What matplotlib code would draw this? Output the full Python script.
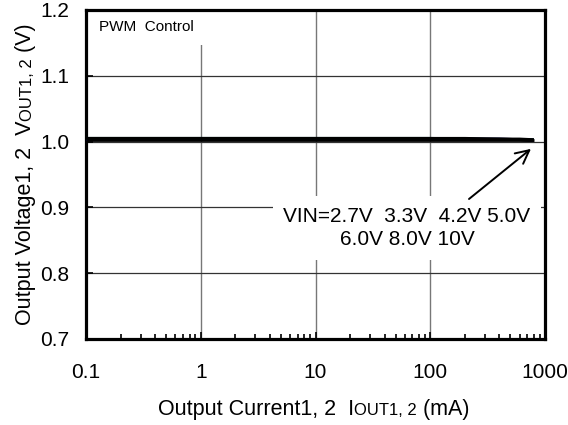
import numpy as np
import matplotlib
matplotlib.use("Agg")
import matplotlib.pyplot as plt
from matplotlib.ticker import LogLocator, FixedLocator, NullFormatter

plt.rcParams['font.family'] = ['Liberation Sans', 'DejaVu Sans']

# ---- data ----
vin_labels = ["2.7V", "3.3V", "4.2V", "5.0V", "6.0V", "8.0V", "10V"]
current_ma = [0.1, 0.2, 0.5, 1, 2, 5, 10, 20, 50, 100, 200, 400, 600, 800]
vout_27 = [1.004, 1.004, 1.004, 1.004, 1.004, 1.004, 1.004, 1.004, 1.004, 1.004, 1.004, 1.003, 1.003, 1.002]
vout_33 = [1.004, 1.004, 1.004, 1.004, 1.004, 1.004, 1.004, 1.004, 1.004, 1.004, 1.004, 1.004, 1.003, 1.002]
vout_42 = [1.003, 1.003, 1.003, 1.003, 1.003, 1.003, 1.003, 1.003, 1.003, 1.003, 1.003, 1.003, 1.003, 1.002]
vout_50 = [1.003, 1.003, 1.003, 1.003, 1.003, 1.003, 1.003, 1.003, 1.003, 1.003, 1.003, 1.003, 1.003, 1.002]
vout_60 = [1.005, 1.005, 1.005, 1.005, 1.005, 1.005, 1.005, 1.005, 1.005, 1.005, 1.004, 1.004, 1.003, 1.003]
vout_80 = [1.005, 1.005, 1.005, 1.005, 1.005, 1.005, 1.005, 1.005, 1.005, 1.005, 1.005, 1.004, 1.004, 1.003]
vout_10 = [1.002, 1.002, 1.002, 1.002, 1.002, 1.002, 1.002, 1.002, 1.002, 1.002, 1.002, 1.002, 1.002, 1.002]
series = [vout_27, vout_33, vout_42, vout_50, vout_60, vout_80, vout_10]
colors = ["#007070", "#600060", "#000000", "#000040", "#004040", "#000000", "#000000"]

x_ticks = [0.1, 1, 10, 100, 1000]
x_ticklabels = ["0.1", "1", "10", "100", "1000"]
y_ticks = [0.7, 0.8, 0.9, 1.0, 1.1, 1.2]
y_ticklabels = ["0.7", "0.8", "0.9", "1.0", "1.1", "1.2"]

W, H = 568, 425
fig = plt.figure(figsize=(W / 100, H / 100), dpi=100)
ax = fig.add_axes([86 / W, 1 - 339 / H, (545 - 86) / W, (339 - 10) / H])

for ys, c in zip(series, colors):
    ax.plot(current_ma, ys, color=c, lw=2.0, solid_capstyle='butt', zorder=4)

ax.set_xscale('log')
ax.set_xlim(0.1, 1000)
ax.set_ylim(0.7, 1.2)
ax.xaxis.set_major_locator(FixedLocator(x_ticks))
ax.set_xticklabels(x_ticklabels)
ax.xaxis.set_minor_locator(LogLocator(base=10, subs=np.arange(2, 10), numticks=20))
ax.xaxis.set_minor_formatter(NullFormatter())
ax.set_yticks(y_ticks)
ax.set_yticklabels(y_ticklabels)

ax.tick_params(axis='both', which='major', direction='in', length=5, width=1.2,
               labelsize=15, colors='black')
ax.tick_params(axis='x', which='major', pad=17)
ax.tick_params(axis='x', which='minor', direction='in', length=3.5, width=1.2)
ax.tick_params(axis='y', which='major', pad=12)
for s in ax.spines.values():
    s.set_linewidth(2.3)

ax.grid(True, which='major', axis='x', color='#777777', lw=1.0)
ax.grid(True, which='major', axis='y', color='#333333', lw=0.9)

ax.text(99, H - 27, "PWM  Control", transform=None, fontsize=11, va='center', ha='left',
        bbox=dict(facecolor='white', edgecolor='none', pad=8), zorder=2.2)

# annotation text box
ax.annotate("VIN=2.7V  3.3V  4.2V 5.0V\n6.0V 8.0V 10V", xy=(700, 0.989), xycoords='data',
            xytext=(407, H - 228), textcoords='figure pixels',
            ha='center', va='center', fontsize=15, linespacing=1.28,
            bbox=dict(facecolor='white', edgecolor='none', boxstyle='square,pad=0.5'),
            zorder=6)
ax.annotate("", xy=(755, 0.989), xycoords='data',
            xytext=(469, H - 199), textcoords='figure pixels',
            arrowprops=dict(arrowstyle='->', color='black', lw=1.4, mutation_scale=24,
                            shrinkA=0, shrinkB=0), zorder=7)

# composite axis labels with small-caps-like subscripts
def place_pieces(pieces, x0, y0, rotation=0):
    renderer = fig.canvas.get_renderer()
    texts = []
    for s, size in pieces:
        t = fig.text(0, 0, s, fontsize=size, rotation=rotation, transform=None,
                     ha='left', va='baseline', rotation_mode='anchor')
        texts.append(t)
    lens = []
    for t in texts:
        bb = t.get_window_extent(renderer)
        lens.append(bb.width if rotation == 0 else bb.height)
    total = sum(lens)
    pos = (x0 - total / 2) if rotation == 0 else (y0 - total / 2)
    for t, L in zip(texts, lens):
        if rotation == 0:
            t.set_position((pos, y0))
        else:
            t.set_position((x0, pos))
        pos += L

place_pieces([("Output Current1, 2  I", 15.5), ("OUT1, 2", 12), (" (mA)", 15.5)],
             313.5, H - 415)
place_pieces([("Output Voltage1, 2  V", 15.5), ("OUT1, 2", 12), (" (V)", 15.5)],
             31.5, H - 174.5, rotation=90)

fig.savefig("out.png", dpi=100)
